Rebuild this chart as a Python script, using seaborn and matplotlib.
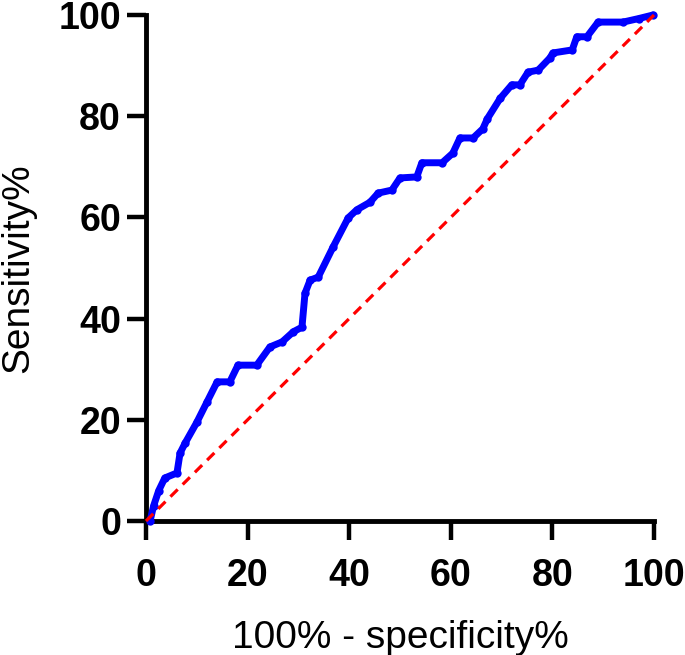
import matplotlib
matplotlib.use("Agg")
import matplotlib.pyplot as plt
import seaborn as sns
import pandas as pd

# ROC curve points (100% - specificity%, sensitivity%)
fpr = [0.8, 1.5, 2.5, 3.7, 6.1, 6.7, 7.7, 10.0, 12.0, 14.0, 16.5, 18.1, 21.8, 24.4,
       26.8, 29.0, 30.7, 31.3, 32.3, 33.9, 36.8, 39.8, 41.5, 44.1, 45.7, 48.4,
       50.0, 53.3, 54.3, 58.3, 60.4, 61.8, 64.4, 66.3, 67.2, 69.7, 72.0, 73.6,
       75.2, 77.2, 79.5, 80.1, 83.9, 84.8, 86.8, 89.0, 93.9, 97.0, 99.8]
tpr = [0.0, 3.0, 6.0, 8.5, 9.5, 13.4, 15.4, 19.5, 23.5, 27.5, 27.5, 30.8, 30.8, 34.4,
       35.4, 37.4, 38.3, 45.0, 47.6, 48.2, 54.1, 59.9, 61.5, 63.0, 64.8, 65.4,
       67.8, 68.0, 70.8, 70.8, 72.7, 75.7, 75.7, 77.5, 79.5, 83.5, 86.2, 86.2,
       88.7, 89.1, 91.5, 92.5, 93.1, 95.7, 95.7, 98.6, 98.6, 99.3, 100.0]

diag_x = [0, 100]
diag_y = [0, 100]

x_ticks = [0, 20, 40, 60, 80, 100]
y_ticks = [0, 20, 40, 60, 80, 100]

sns.set_style("white")
plt.rcParams['font.family'] = ['Liberation Sans', 'DejaVu Sans']
plt.rcParams['text.color'] = 'black'
plt.rcParams['axes.labelcolor'] = 'black'
plt.rcParams['xtick.color'] = 'black'
plt.rcParams['ytick.color'] = 'black'

fig = plt.figure(figsize=(6.85, 6.55), dpi=100)
ax = fig.add_axes([146/685, 1-521/655, (654-146)/685, (521-15)/655])

df = pd.DataFrame({"fpr": fpr, "tpr": tpr})
sns.lineplot(data=df, x="fpr", y="tpr", sort=False, estimator=None, ax=ax,
             color="#0000FF", linewidth=5, marker="o", markersize=6,
             markeredgewidth=0, clip_on=False, zorder=3)
sns.lineplot(x=diag_x, y=diag_y, ax=ax, color="#FF0000", linewidth=2.3,
             linestyle=(0, (3.2, 2.2)), clip_on=False, zorder=4)

ax.set_xlim(0, 100)
ax.set_ylim(0, 100)
ax.set_xticks(x_ticks)
ax.set_yticks(y_ticks)
ax.set_xticklabels([str(t) for t in x_ticks], fontsize=27, fontweight="bold")
ax.set_yticklabels([str(t) for t in y_ticks], fontsize=27, fontweight="bold")
ax.tick_params(axis="both", bottom=True, left=True, length=14, width=3.2,
               color="black", labelcolor="black", direction="out")
ax.tick_params(axis="x", pad=13)
ax.tick_params(axis="y", pad=4)
for side in ["left", "bottom"]:
    ax.spines[side].set_linewidth(3.5)
    ax.spines[side].set_color("black")
for side in ["top", "right"]:
    ax.spines[side].set_visible(False)

ax.set_xlabel("100% - specificity%", fontsize=28, labelpad=18, color="black")
ax.set_ylabel("Sensitivity%", fontsize=28, labelpad=16, color="black")

fig.savefig("out.png", dpi=100)
